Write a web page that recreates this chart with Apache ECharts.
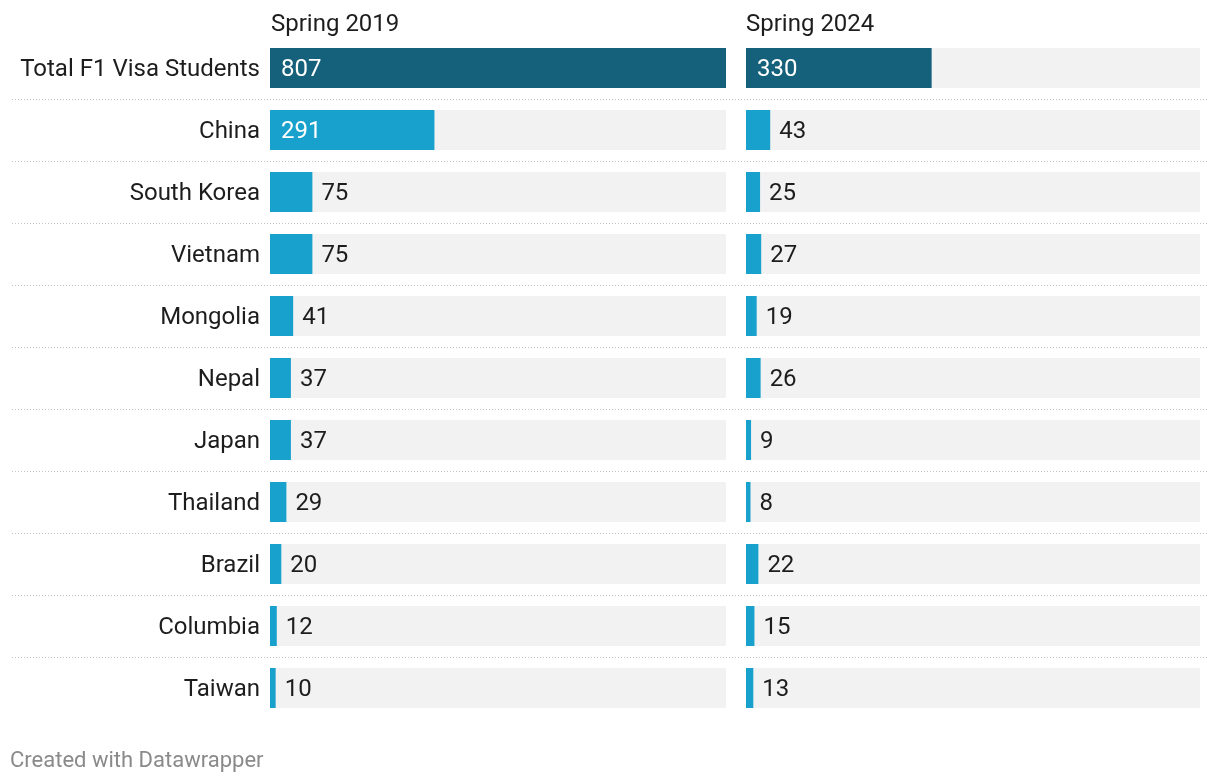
<!DOCTYPE html>
<html><head><meta charset="utf-8">
<script src="https://cdn.jsdelivr.net/npm/echarts@6/dist/echarts.min.js"></script>
<style>html,body{margin:0;padding:0;background:#fff}#c{width:1220px;height:784px}</style>
</head><body><div id="c"></div>
<script>
const categories = ['Total F1 Visa Students','China','South Korea','Vietnam','Mongolia','Nepal','Japan','Thailand','Brazil','Columbia','Taiwan'];
const spring2019 = [807,291,75,75,41,37,37,29,20,12,10];
const spring2024 = [330,43,25,27,19,26,9,8,22,15,13];
const panelTitles = ['Spring 2019','Spring 2024'];
const footer = 'Created with Datawrapper';

const MAX = 807;
const FONT = 'Roboto';
const DARK = '#15607a', LIGHT = '#18a1cd';
const TOP = 37, H = 682;
const N = categories.length;

function makeData(vals, plotW){
  return vals.map((v,i)=>{
    const px = v/MAX*plotW;
    const inside = px > 80;
    return {
      value: v,
      itemStyle:{color: i===0 ? DARK : LIGHT},
      label:{
        show:true,
        position: inside ? 'insideLeft' : 'right',
        distance: inside ? 11 : 9,
        offset:[0,2],
        color: inside ? '#fff' : '#1d1d1d',
        fontFamily: FONT, fontSize: 24
      }
    };
  });
}

const chart = echarts.init(document.getElementById('c'), null, {renderer:'canvas'});
const grids = [
  {left:270, width:456, top:TOP, height:H},
  {left:746, width:454, top:TOP, height:H},
  {left:12, right:12, top:TOP, height:H}
];
const titleStyle = {fontFamily:FONT,fontSize:24,fontWeight:'normal',color:'#1d1d1d'};
chart.setOption({
  animation:false,
  title:[
    {text:panelTitles[0], left:271, top:13, padding:0, textStyle:titleStyle},
    {text:panelTitles[1], left:746, top:13, padding:0, textStyle:titleStyle},
    {text:footer, left:10, top:750, padding:0, textStyle:{fontFamily:FONT,fontSize:22,fontWeight:'normal',color:'#8a8a8a'}}
  ],
  grid: grids,
  xAxis:[
    {gridIndex:0,type:'value',min:0,max:MAX,show:false},
    {gridIndex:1,type:'value',min:0,max:MAX,show:false},
    {gridIndex:2,type:'value',min:0,max:1,show:false}
  ],
  yAxis:[
    {gridIndex:0,type:'category',data:categories,inverse:true,axisLine:{show:false},axisTick:{show:false},
     axisLabel:{margin:10,color:'#1d1d1d',formatter:function(v){return '{a|'+v+'}';},
       rich:{a:{fontFamily:FONT,fontSize:24,color:'#1d1d1d',padding:[4,0,0,0]}}}},
    {gridIndex:1,type:'category',data:categories,inverse:true,axisLine:{show:false},axisTick:{show:false},axisLabel:{show:false}},
    {gridIndex:2,type:'value',min:0,max:N,interval:1,inverse:true,axisLine:{show:false},axisTick:{show:false},axisLabel:{show:false},
     splitLine:{show:true,showMinLine:false,showMaxLine:false,lineStyle:{color:'#c4c4c4',type:[1,2],width:1}}}
  ],
  series:[
    {type:'bar',xAxisIndex:0,yAxisIndex:0,barWidth:40,data:makeData(spring2019,456),
     showBackground:true,backgroundStyle:{color:'#f2f2f2'}},
    {type:'bar',xAxisIndex:1,yAxisIndex:1,barWidth:40,data:makeData(spring2024,454),
     showBackground:true,backgroundStyle:{color:'#f2f2f2'}}
  ]
});
</script></body></html>
